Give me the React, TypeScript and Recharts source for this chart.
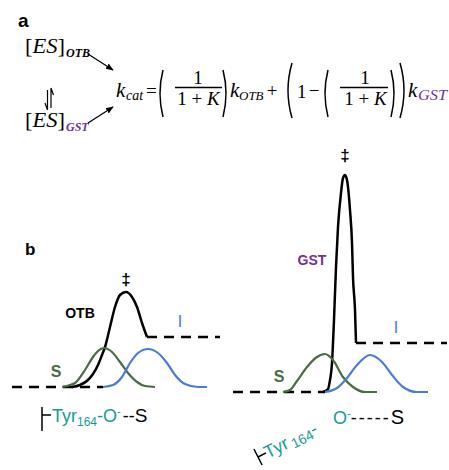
import React from "react";
import { LineChart, Line, XAxis, YAxis } from "recharts";

// x = reaction coordinate (arbitrary), y = free energy (arbitrary units)
// OTB pathway (left panel)
const otbBaseline = [{ x: 1, y: 0 }, { x: 46.5, y: 0 }];
const otbPlateau = [{ x: 68.5, y: 10 }, { x: 105, y: 10 }];
const otbBarrier = [
  { x: 31, y: 0 }, { x: 35, y: 0.4 }, { x: 39, y: 1.4 }, { x: 41.5, y: 2.6 },
  { x: 44, y: 4.4 }, { x: 46, y: 6.4 }, { x: 47.5, y: 8 }, { x: 50, y: 12 },
  { x: 52.5, y: 16 }, { x: 55, y: 18.4 }, { x: 58, y: 19 }, { x: 61, y: 18 },
  { x: 63.5, y: 16 }, { x: 66, y: 12.8 }, { x: 68.5, y: 10 },
];
const otbSubstrate = [
  { x: 26, y: 0 }, { x: 30, y: 0.4 }, { x: 32.5, y: 0.8 }, { x: 37.5, y: 3.4 },
  { x: 41.5, y: 6 }, { x: 44, y: 7.2 }, { x: 47, y: 7.8 }, { x: 51, y: 7 },
  { x: 55, y: 5 }, { x: 59, y: 2.8 }, { x: 63.5, y: 1 }, { x: 67.5, y: 0.2 }, { x: 72.5, y: 0 },
];
const otbIntermediate = [
  { x: 46.5, y: 0 }, { x: 51.5, y: 0.4 }, { x: 56, y: 2 }, { x: 60, y: 4.8 },
  { x: 64, y: 6.8 }, { x: 69, y: 7.6 }, { x: 74, y: 6.8 }, { x: 78.5, y: 4.8 },
  { x: 82.5, y: 2.4 }, { x: 87.5, y: 0.6 }, { x: 94, y: 0 }, { x: 98.5, y: 0 },
];

// GST pathway (right panel)
const gstBaseline = [{ x: 0, y: 0 }, { x: 46, y: 0 }];
const gstPlateau = [{ x: 61.5, y: 9.8 }, { x: 107, y: 9.8 }];
const gstBarrier = [
  { x: 45, y: 0 }, { x: 47.5, y: 0.6 }, { x: 48.5, y: 2.4 }, { x: 49.5, y: 5.8 },
  { x: 50, y: 9.8 }, { x: 50.5, y: 14.4 }, { x: 51.5, y: 25 }, { x: 52.5, y: 33 },
  { x: 54, y: 39.8 }, { x: 55, y: 42.8 }, { x: 56, y: 43.4 }, { x: 57, y: 42.4 },
  { x: 58.5, y: 36.4 }, { x: 59.5, y: 29.8 }, { x: 60, y: 23 }, { x: 61, y: 16.4 }, { x: 61.5, y: 9.8 },
];
const gstSubstrate = [
  { x: 25, y: 0 }, { x: 28.5, y: 0.4 }, { x: 32, y: 2.2 }, { x: 37, y: 5 },
  { x: 42, y: 7 }, { x: 46, y: 7.6 }, { x: 50, y: 6.4 }, { x: 55, y: 3 },
  { x: 60, y: 1 }, { x: 66, y: 0 }, { x: 72, y: 0 },
];
const gstIntermediate = [
  { x: 46, y: 0 }, { x: 52, y: 0.8 }, { x: 57, y: 2.8 }, { x: 62, y: 5.4 },
  { x: 68.5, y: 7.4 }, { x: 74.5, y: 6 }, { x: 79.5, y: 3.4 }, { x: 85, y: 1 },
  { x: 92, y: 0 }, { x: 97.5, y: 0 },
];

const GREEN = "#4a6b43";
const BLUE = "#4b7bd3";
const PURPLE = "#7030a0";
const TEAL = "#179a95";
const serif = "'Liberation Serif', 'Times New Roman', serif";
const sans = "'Liberation Sans', Arial, sans-serif";

type Pt = { x: number; y: number };

function EnergyPanel(props: {
  left: number; top: number; width: number; height: number; xMax: number; yMax: number;
  baseline: Pt[]; plateau: Pt[]; barrier: Pt[]; substrate: Pt[]; intermediate: Pt[];
}) {
  const { left, top, width, height, xMax, yMax } = props;
  const common = { dataKey: "y", dot: false, activeDot: false, isAnimationActive: false } as const;
  return (
    <div style={{ position: "absolute", left, top }}>
      <LineChart width={width} height={height} margin={{ top: 5, right: 0, bottom: 5, left: 0 }}>
        <XAxis type="number" dataKey="x" domain={[0, xMax]} hide />
        <YAxis type="number" dataKey="y" domain={[0, yMax]} hide />
        <Line {...common} data={props.baseline} type="linear" stroke="#000" strokeWidth={2.5} strokeDasharray="10 7" />
        <Line {...common} data={props.plateau} type="linear" stroke="#000" strokeWidth={2.5} strokeDasharray="10 7" />
        <Line {...common} data={props.barrier} type="monotone" stroke="#000" strokeWidth={2.5} />
        <Line {...common} data={props.substrate} type="monotone" stroke={GREEN} strokeWidth={2.2} />
        <Line {...common} data={props.intermediate} type="monotone" stroke={BLUE} strokeWidth={2.2} />
      </LineChart>
    </div>
  );
}

// thin math-style parenthesis
function paren(x: number, y0: number, y1: number, bulge: number) {
  return `M${x},${y0} Q${x + bulge * 2},${(y0 + y1) / 2} ${x},${y1}`;
}

export default function App() {
  return (
    <div style={{ position: "absolute", left: 0, top: 0, width: 449, height: 470, background: "#fff" }}>
      <EnergyPanel left={10} top={282} width={212} height={110} xMax={106} yMax={20}
        baseline={otbBaseline} plateau={otbPlateau} barrier={otbBarrier}
        substrate={otbSubstrate} intermediate={otbIntermediate} />
      <EnergyPanel left={233} top={162} width={214} height={235} xMax={107} yMax={45}
        baseline={gstBaseline} plateau={gstPlateau} barrier={gstBarrier}
        substrate={gstSubstrate} intermediate={gstIntermediate} />

      <svg width={449} height={470} style={{ position: "absolute", left: 0, top: 0, pointerEvents: "none" }}>
        <defs>
          <marker id="ah" viewBox="0 0 10 10" refX="9" refY="5" markerWidth="6" markerHeight="6" orient="auto">
            <path d="M0,1 L10,5 L0,9 z" fill="#000" />
          </marker>
        </defs>

        {/* panel a */}
        <text x={18} y={27} fontFamily={sans} fontWeight="bold" fontSize={19}>a</text>
        <text x={25} y={53} fontFamily={serif} fontSize={20} textLength={40} lengthAdjust="spacingAndGlyphs">[<tspan fontStyle="italic">ES</tspan>]</text>
        <text x={66} y={57} fontFamily={serif} fontSize={12} fontWeight="bold" fontStyle="italic">OTB</text>
        <text x={25} y={127} fontFamily={serif} fontSize={20} textLength={40} lengthAdjust="spacingAndGlyphs">[<tspan fontStyle="italic">ES</tspan>]</text>
        <text x={66} y={131} fontFamily={serif} fontSize={12} fontWeight="bold" fontStyle="italic" fill={PURPLE}>GST</text>
        <line x1={88} y1={54} x2={113} y2={70} stroke="#000" strokeWidth={1.3} markerEnd="url(#ah)" />
        <line x1={88} y1={123} x2={113} y2={107} stroke="#000" strokeWidth={1.3} markerEnd="url(#ah)" />
        <path d="M51,88 L51,108 M51,88 L53.5,95 M47.5,90 L47.5,110 M47.5,110 L45,103" stroke="#000" strokeWidth={1.2} fill="none" />

        <g fontFamily={serif} fill="#000">
          <text x={116} y={97} fontSize={21} fontStyle="italic">k</text>
          <text x={126} y={100} fontSize={14} fontStyle="italic">cat</text>
          <text x={146} y={97} fontSize={19}>=</text>
          <text x={198} y={84} fontSize={19} textAnchor="middle">1</text>
          <text x={198.5} y={105} fontSize={19} textAnchor="middle">1 + <tspan fontStyle="italic">K</tspan></text>
          <text x={230} y={97} fontSize={21} fontStyle="italic">k</text>
          <text x={239} y={100} fontSize={13} fontStyle="italic">OTB</text>
          <text x={272} y={97} fontSize={19} textAnchor="middle">+</text>
          <text x={297} y={98} fontSize={19}>1</text>
          <text x={314} y={97} fontSize={19} textAnchor="middle">−</text>
          <text x={365} y={84} fontSize={19} textAnchor="middle">1</text>
          <text x={365.5} y={105} fontSize={19} textAnchor="middle">1 + <tspan fontStyle="italic">K</tspan></text>
          <text x={408} y={97} fontSize={21} fontStyle="italic">k</text>
          <text x={418} y={100} fontSize={14} fontStyle="italic" fill={PURPLE} textLength={29} lengthAdjust="spacingAndGlyphs">GST</text>
        </g>
        <g stroke="#000" strokeWidth={1.5} fill="none">
          <line x1={175} y1={87.5} x2={222} y2={87.5} />
          <line x1={340} y1={87.5} x2={388} y2={87.5} />
          <path d={paren(163, 70, 117, -3)} />
          <path d={paren(223, 70, 117, 3)} />
          <path d={paren(292, 63, 118, -4)} />
          <path d={paren(328, 70, 117, -3)} />
          <path d={paren(391, 70, 117, 3)} />
          <path d={paren(400, 63, 118, 4)} />
        </g>

        {/* panel b */}
        <text x={25} y={255} fontFamily={sans} fontWeight="bold" fontSize={17}>b</text>
        <g fontFamily={sans}>
          <text x={126} y={285} fontSize={17} fontWeight="bold" textAnchor="middle">‡</text>
          <text x={80} y={318} fontSize={14} fontWeight="bold" textAnchor="middle">OTB</text>
          <text x={180} y={327} fontSize={16} fill={BLUE} textAnchor="middle">I</text>
          <text x={56} y={377} fontSize={16} fontWeight="bold" fill={GREEN} textAnchor="middle">S</text>

          <text x={345} y={161} fontSize={17} fontWeight="bold" textAnchor="middle">‡</text>
          <text x={312} y={265} fontSize={14} fontWeight="bold" fill={PURPLE} textAnchor="middle">GST</text>
          <text x={396} y={333} fontSize={16} fill={BLUE} textAnchor="middle">I</text>
          <text x={279} y={382} fontSize={16} fontWeight="bold" fill={GREEN} textAnchor="middle">S</text>

          {/* left residue label */}
          <path d="M42,407 L42,431 M42,415 L51,415" stroke="#000" strokeWidth={1.5} />
          <text x={52} y={422} fontSize={18} fill={TEAL}>
            Tyr<tspan fontSize={12} dy={4}>164</tspan>
            <tspan fontSize={18} dy={-4}>-O</tspan>
            <tspan fontSize={11} dy={-7}>-</tspan>
            <tspan fontSize={18} dy={7} fill="#000" dx={2}>--</tspan>
            <tspan fontSize={19} fill="#000">S</tspan>
          </text>

          {/* right residue label */}
          <g transform="translate(258,457) rotate(-27)">
            <path d="M0,-9 L0,9 M0,0 L9,0" stroke="#000" strokeWidth={1.5} />
            <text x={8} y={6} fontSize={18} fill={TEAL}>
              Tyr<tspan fontSize={14} dx={3} dy={3}>164</tspan>
              <tspan fontSize={18} dy={-3}>-</tspan>
            </text>
          </g>
          <text x={333} y={424} fontSize={18} fill={TEAL}>
            O<tspan fontSize={11} dy={-7}>-</tspan>
            <tspan fontSize={18} dy={7} fill="#000" letterSpacing={2}>-----</tspan>
            <tspan fontSize={20} fill="#000">S</tspan>
          </text>
        </g>
      </svg>
    </div>
  );
}
